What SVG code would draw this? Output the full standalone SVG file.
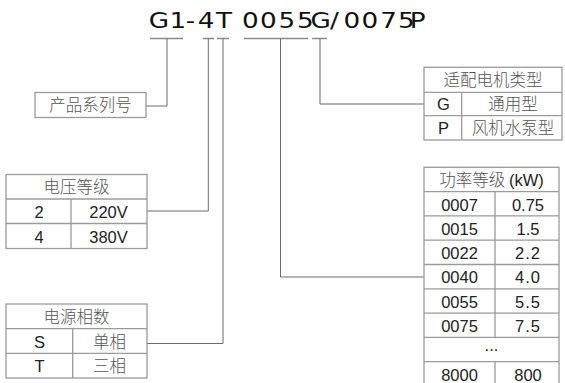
<svg xmlns="http://www.w3.org/2000/svg" width="565" height="383" viewBox="0 0 565 383">
<style>
.title{font-family:"DejaVu Sans",Verdana,sans-serif;font-size:21px;fill:#111}
.ul{stroke:#8a8a8a;stroke-width:1.6;fill:none}
.conn path{stroke:#6a6a6a;stroke-width:1;fill:none}
.box{fill:#fff;stroke:#9a9a9a;stroke-width:1.3}
.grid{stroke:#9a9a9a;stroke-width:1.3}
.zh{font-family:"Noto Sans CJK SC","Noto Sans",sans-serif;font-weight:300;font-size:16.5px;fill:#555;text-anchor:middle}
.en{font-family:"Liberation Sans",Arial,sans-serif;font-size:16.5px;fill:#222;text-anchor:middle}
</style>
<rect width="565" height="383" fill="#fff"/>
<g id="title">
<text class="title" transform="scale(1.25,1)" x="119.04 135.6 148.56 158.16 172.8 183.2 193.6 208 222.88 237.6 248.4 264 274.88 289.28 304.24 318.4 327.76" y="28">G1-4T 0055G/0075P</text>
<path class="ul" d="M150 38.5H183M203 38.5H214M217 38.5H229M244 38.5H308M312 38.5H327"/>
</g>
<g id="connectors" class="conn">
<path d="M167 38.5V106H146"/>
<path d="M208.3 38.5V211H147"/>
<path d="M223 38.5V343.5H147"/>
<path d="M280.5 38.5V277H424"/>
<path d="M320 38.5V104H424"/>
</g>
<g id="series">
<rect class="box" x="35" y="92.5" width="111" height="25"/>
<text class="zh" x="90.5" y="111">产品系列号</text>
</g>
<g id="voltage">
<rect class="box" x="6" y="174.5" width="141" height="74"/>
<path class="grid" d="M6 199H147M6 223.5H147M71 199V248.5"/>
<text class="zh" x="76.5" y="193">电压等级</text>
<text class="en" x="39" y="218">2</text>
<text class="en" x="108.5" y="218">220V</text>
<text class="en" x="39" y="242.5">4</text>
<text class="en" x="108.5" y="242.5">380V</text>
</g>
<g id="phase">
<rect class="box" x="6" y="304" width="141" height="74"/>
<path class="grid" d="M6 328.7H147M6 353.3H147M72.7 328.7V378"/>
<text class="zh" x="76.5" y="322.5">电源相数</text>
<text class="en" x="39.5" y="347.5">S</text>
<text class="zh" x="109.5" y="347.5">单相</text>
<text class="en" x="39.5" y="372">T</text>
<text class="zh" x="109.5" y="372">三相</text>
</g>
<g id="motor">
<rect class="box" x="424" y="67.3" width="138" height="72.7"/>
<path class="grid" d="M424 92.3H562M424 115.7H562M461.7 92.3V140"/>
<text class="zh" x="493" y="86">适配电机类型</text>
<text class="en" x="443.5" y="110">G</text>
<text class="zh" x="513" y="110">通用型</text>
<text class="en" x="443.5" y="133.5">P</text>
<text class="zh" x="513" y="133.5">风机水泵型</text>
</g>
<g id="power">
<rect class="box" x="424" y="167.3" width="135" height="230"/>
<path class="grid" d="M424 191.6H559M424 215.9H559M424 240.2H559M424 264.5H559M424 288.8H559M424 313.1H559M424 337.4H559M424 361.7H559M495 191.6V337.4M495 361.7V390"/>
<text class="zh" x="491.5" y="186">功率等级 <tspan style="font-family:'Liberation Sans',Arial,sans-serif;font-weight:400;fill:#222">(kW)</tspan></text>
<text class="en" x="459.5" y="210.5">0007</text><text class="en" x="528" y="210.5">0.75</text>
<text class="en" x="459.5" y="234.8">0015</text><text class="en" x="528" y="234.8">1.5</text>
<text class="en" x="459.5" y="259.1">0022</text><text class="en" x="528" y="259.1" letter-spacing="1">2.2</text>
<text class="en" x="459.5" y="283.4">0040</text><text class="en" x="528" y="283.4" letter-spacing="1">4.0</text>
<text class="en" x="459.5" y="307.7">0055</text><text class="en" x="528" y="307.7" letter-spacing="1">5.5</text>
<text class="en" x="459.5" y="332">0075</text><text class="en" x="528" y="332" letter-spacing="1">7.5</text>
<text class="en" x="491.5" y="350.5">...</text>
<text class="en" x="459.5" y="380.6">8000</text><text class="en" x="528" y="380.6">800</text>
</g>
</svg>
